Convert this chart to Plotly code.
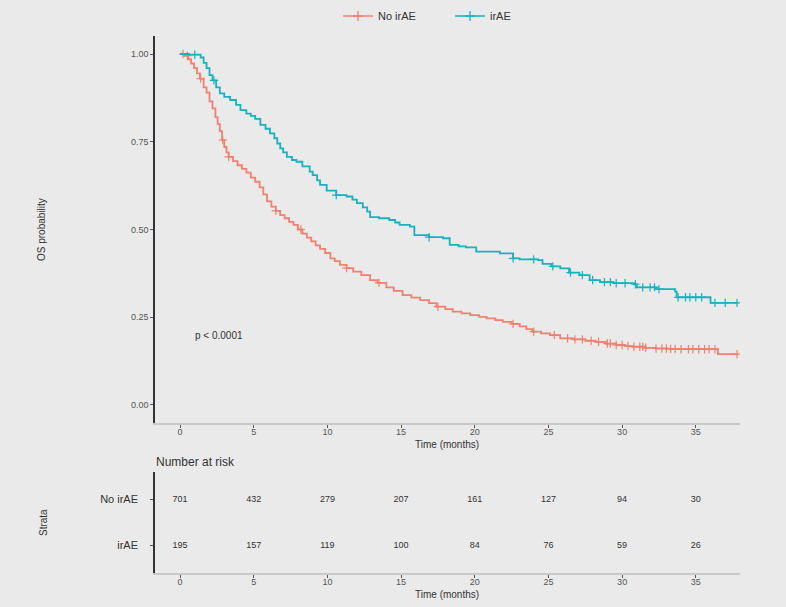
import numpy as np
import plotly.graph_objects as go

# ---------------- data ----------------
groups = ["No irAE", "irAE"]
colors = {"No irAE": "#F0806F", "irAE": "#17B2BE"}

t_no = [0, 0.3, 0.55, 0.75, 0.95, 1.15, 1.35, 1.6, 1.8, 2.0, 2.2, 2.4, 2.55, 2.7, 2.85, 3.0, 3.15, 3.3,
        3.6, 3.9, 4.2, 4.5, 4.8, 5.1, 5.4, 5.65, 5.9, 6.2, 6.5, 6.8, 7.1, 7.4, 7.7, 8.0, 8.3, 8.6, 8.9,
        9.2, 9.5, 9.85, 10.2, 10.5, 10.85, 11.3, 11.75, 12.3, 12.9, 13.4, 14.0, 14.5, 15.1, 15.7, 16.3,
        16.9, 17.4, 18.0, 18.5, 19.1, 19.7, 20.3, 20.8, 21.4, 21.9, 22.5, 23.05, 23.5, 23.9, 24.5, 25.1,
        25.8, 26.7, 27.5, 28.2, 28.9, 29.6, 30.2, 30.7, 31.5, 32.3, 33.1, 33.9, 36.5, 37.8]
s_no = [1.0, 0.995, 0.985, 0.973, 0.96, 0.945, 0.93, 0.905, 0.89, 0.865, 0.845, 0.82, 0.80, 0.78, 0.755,
        0.735, 0.72, 0.707, 0.695, 0.683, 0.673, 0.662, 0.648, 0.636, 0.62, 0.60, 0.58, 0.565, 0.553,
        0.541, 0.532, 0.522, 0.513, 0.5, 0.488, 0.477, 0.466, 0.455, 0.445, 0.433, 0.418, 0.41, 0.399,
        0.39, 0.38, 0.37, 0.356, 0.348, 0.335, 0.325, 0.313, 0.306, 0.299, 0.29, 0.28, 0.273, 0.266,
        0.261, 0.256, 0.251, 0.247, 0.242, 0.237, 0.231, 0.224, 0.216, 0.209, 0.204, 0.199, 0.19, 0.187,
        0.183, 0.18, 0.175, 0.171, 0.168, 0.166, 0.163, 0.161, 0.16, 0.159, 0.145, 0.145]
cens_no = [0.2, 0.5, 1.4, 2.9, 3.3, 6.5, 8.2, 11.3, 13.5, 17.5, 22.6, 24.0, 25.4, 26.3, 26.8, 27.3,
           27.9, 28.4, 29.0, 29.2, 29.6, 30.0, 30.4, 30.8, 31.2, 31.4, 31.6, 32.3, 32.7, 33.0, 33.3,
           33.6, 34.0, 34.5, 34.8, 35.2, 35.6, 35.9, 36.3, 37.8]

t_ir = [0, 0.6, 1.4, 1.6, 1.8, 2.0, 2.2, 2.45, 2.7, 3.0, 3.4, 3.8, 4.1, 4.5, 4.8, 5.1, 5.45, 5.8, 6.1,
        6.4, 6.6, 6.8, 7.0, 7.25, 7.6, 7.9, 8.3, 8.8, 9.0, 9.3, 9.5, 9.95, 10.6, 11.3, 11.7, 12.0, 12.4,
        12.7, 12.9, 13.5, 14.2, 14.6, 14.9, 15.6, 15.9, 16.9, 17.85, 18.3, 18.9, 19.4, 20.1, 21.7, 22.6,
        23.05, 24.3, 24.6, 25.2, 25.8, 26.4, 27.1, 27.8, 28.5, 29.4, 30.8, 31.0, 32.3, 33.6, 33.7, 36.0, 37.8]
s_ir = [1.0, 0.998, 0.99, 0.975, 0.96, 0.94, 0.925, 0.905, 0.888, 0.878, 0.869, 0.855, 0.84, 0.83, 0.824,
        0.815, 0.798, 0.787, 0.774, 0.76, 0.745, 0.731, 0.72, 0.707, 0.698, 0.693, 0.68, 0.665, 0.655,
        0.64, 0.627, 0.611, 0.598, 0.594, 0.585, 0.575, 0.563, 0.551, 0.535, 0.532, 0.527, 0.52, 0.513,
        0.508, 0.484, 0.478, 0.475, 0.456, 0.452, 0.449, 0.437, 0.432, 0.418, 0.415, 0.413, 0.402, 0.395,
        0.389, 0.377, 0.37, 0.356, 0.35, 0.347, 0.344, 0.335, 0.33, 0.323, 0.307, 0.291, 0.291]
cens_ir = [1.0, 2.3, 10.6, 16.9, 22.6, 24.0, 25.3, 26.5, 27.3, 28.0, 28.8, 29.2, 29.6, 30.2, 30.9, 31.4,
           31.9, 32.2, 32.5, 33.8, 34.3, 34.6, 35.0, 35.4, 36.3, 37.0, 37.8]

risk_times = [0, 5, 10, 15, 20, 25, 30, 35]
risk_no = [701, 432, 279, 207, 161, 127, 94, 30]
risk_ir = [195, 157, 119, 100, 84, 76, 59, 26]

x_ticks = [0, 5, 10, 15, 20, 25, 30, 35]
y_ticks = [0, 0.25, 0.5, 0.75, 1.0]
y_ticklabels = ["0.00", "0.25", "0.50", "0.75", "1.00"]

# ---------------- figure ----------------
BG = "#EAEAEA"
FONT = "Liberation Sans, Arial, sans-serif"
W, H = 786, 607
XR = [-1.7, 38.0]

fig = go.Figure()

curves = {"No irAE": (t_no, s_no, cens_no), "irAE": (t_ir, s_ir, cens_ir)}
for g in groups:
    t, s, c = curves[g]
    col = colors[g]
    fig.add_trace(go.Scatter(x=t, y=s, mode="lines", line=dict(color=col, width=1.8, shape="hv"),
                             showlegend=False, xaxis="x", yaxis="y", hoverinfo="skip"))
    ta = np.array(t); sa = np.array(s)
    idx = np.searchsorted(ta, np.array(c), side="right") - 1
    fig.add_trace(go.Scatter(x=c, y=sa[idx], mode="markers",
                             marker=dict(symbol="cross-thin", size=6, line=dict(color=col, width=1.2)),
                             showlegend=False, xaxis="x", yaxis="y", hoverinfo="skip"))
    # legend entry
    fig.add_trace(go.Scatter(x=[None], y=[None], mode="lines+markers", name=g,
                             line=dict(color=col, width=1.5),
                             marker=dict(symbol="cross-thin", size=7, line=dict(color=col, width=1.3)),
                             xaxis="x", yaxis="y"))

# risk table
for g, vals, ypos in [("No irAE", risk_no, 2), ("irAE", risk_ir, 1)]:
    fig.add_trace(go.Scatter(x=risk_times, y=[ypos] * len(risk_times), mode="text",
                             text=[str(v) for v in vals], textfont=dict(size=9, color="#333", family=FONT),
                             showlegend=False, xaxis="x2", yaxis="y2", hoverinfo="skip"))

xdom = [155 / W, 740 / W]
axis_common = dict(ticks="outside", ticklen=3, tickcolor="#555", showgrid=False, zeroline=False)
fig.update_layout(
    width=W, height=H, margin=dict(l=0, r=0, t=0, b=0),
    paper_bgcolor=BG, plot_bgcolor=BG,
    font=dict(family=FONT, color="#333"),
    showlegend=True,
    legend=dict(orientation="h", x=338 / W, xanchor="left", y=1 - 16 / H, yanchor="middle",
                font=dict(size=11, color="#333"), bgcolor="rgba(0,0,0,0)", itemwidth=30,
                entrywidth=67, entrywidthmode="pixels"),
    xaxis=dict(domain=xdom, range=XR, tickvals=x_ticks, ticklabelstandoff=-4,
               showline=True, linecolor="#C8C8C8", linewidth=2,
               tickfont=dict(size=9, color="#555"), anchor="y", **axis_common),
    yaxis=dict(domain=[(H - 423) / H, (H - 36) / H], range=[-0.0513, 1.0513], tickvals=y_ticks,
               ticktext=y_ticklabels, showline=True, linecolor="#333", linewidth=1.5,
               tickfont=dict(size=9, color="#555"), anchor="x", **axis_common),
    xaxis2=dict(domain=xdom, range=XR, tickvals=x_ticks, ticklabelstandoff=-4,
                showline=True, linecolor="#C8C8C8", linewidth=2,
                tickfont=dict(size=9, color="#555"), anchor="y2", **axis_common),
    yaxis2=dict(domain=[(H - 573) / H, (H - 472) / H], range=[0.4, 2.6], tickvals=[1, 2],
                ticktext=["irAE", "No irAE"], ticklabelstandoff=10,
                showline=True, linecolor="#333", linewidth=1.5,
                tickfont=dict(size=11, color="#333"), anchor="x2", **axis_common),
)

ann = [
    dict(text="Time (months)", x=447 / W, y=1 - 444 / H, font=dict(size=10, color="#333")),
    dict(text="Time (months)", x=447 / W, y=1 - 594 / H, font=dict(size=10, color="#333")),
    dict(text="OS probability", x=42 / W, y=1 - 230 / H, textangle=-90, font=dict(size=10, color="#333")),
    dict(text="Strata", x=43 / W, y=1 - 523 / H, textangle=-90, font=dict(size=10, color="#333")),
    dict(text="Number at risk", x=154 / W, y=1 - 462 / H, xanchor="left", font=dict(size=12, color="#333")),
    dict(text="p < 0.0001", x=193 / W, y=1 - 335 / H, xanchor="left", font=dict(size=10, color="#333")),
]
for a in ann:
    a.setdefault("xanchor", "center")
    fig.add_annotation(xref="paper", yref="paper", yanchor="middle", showarrow=False, **a)

fig.write_html("out.html")
